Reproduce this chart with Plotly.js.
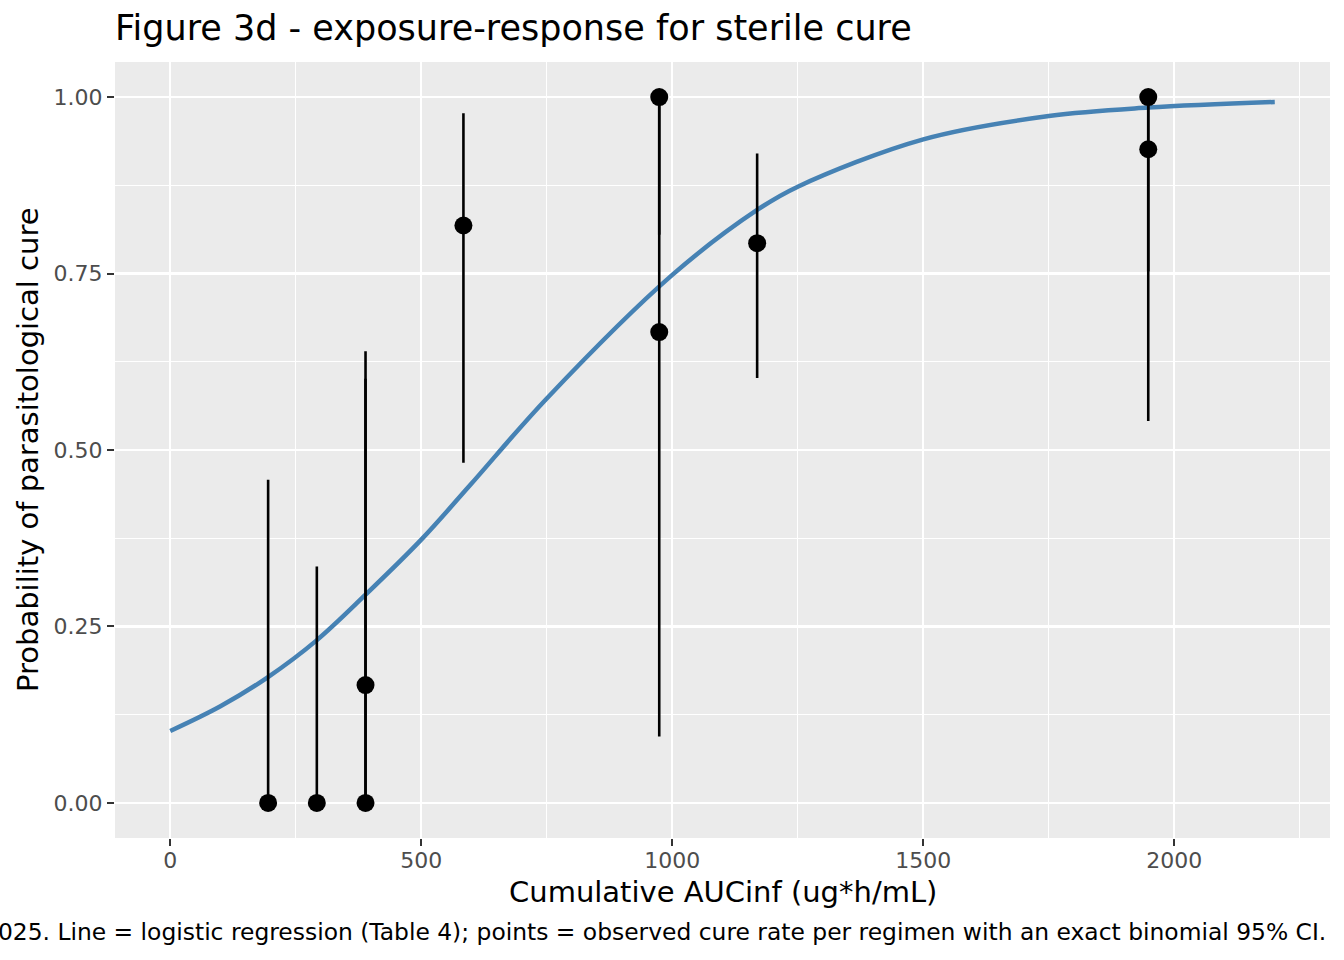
<!DOCTYPE html>
<html>
<head>
<meta charset="utf-8">
<script src="https://cdn.plot.ly/plotly-3.0.1.min.js"></script>
<style>
  body { margin: 0; background: #ffffff; }
  #chart { width: 1344px; height: 960px; }
</style>
</head>
<body>
<div id="chart"></div>
<script>
// observed cure rate per regimen, exact binomial 95% CI
var auc   = [195, 292, 389, 389, 584, 974, 974, 1169, 1948, 1948];
var cure  = [0, 0, 0, 0.167, 0.818, 1.0, 0.667, 0.793, 1.0, 0.926];
var lower = [0, 0, 0, 0.004, 0.482, 0.805, 0.094, 0.602, 0.753, 0.541];
var upper = [0.458, 0.335, 0.601, 0.640, 0.977, 1.0, 0.992, 0.920, 1.0, 0.998];

// logistic regression line
var curveX = [0, 100, 194, 291, 389, 500, 597, 750, 1000, 1169, 1250, 1500, 1750, 1948, 2200];
var curveY = [0.102, 0.137, 0.178, 0.230, 0.295, 0.373, 0.450, 0.573, 0.748, 0.840, 0.873, 0.940, 0.973, 0.985, 0.993];

var xTicks = [0, 500, 1000, 1500, 2000];
var yTicks = [0, 0.25, 0.5, 0.75, 1.0];

var font = 'DejaVu Sans, sans-serif';

var errPlus = auc.map(function(d, i) { return upper[i] - cure[i]; });
var errMinus = auc.map(function(d, i) { return cure[i] - lower[i]; });

var data = [{
    type: 'scatter',
    mode: 'lines',
    x: curveX,
    y: curveY,
    line: {color: '#4682B4', width: 4.5, shape: 'spline', smoothing: 1},
    hoverinfo: 'skip',
    showlegend: false
  }, {
    type: 'scatter',
    mode: 'markers',
    x: auc,
    y: cure,
    marker: {size: 18, color: '#000000'},
    error_y: {
      type: 'data',
      symmetric: false,
      array: errPlus,
      arrayminus: errMinus,
      color: '#000000',
      thickness: 2.6,
      width: 0
    },
    showlegend: false
}];

var layout = {
  width: 1344,
  height: 960,
  paper_bgcolor: '#FFFFFF',
  plot_bgcolor: '#EBEBEB',
  margin: {l: 115, r: 14, t: 62, b: 122},
  font: {family: font, color: '#000000'},
  title: {
    text: 'Figure 3d - exposure-response for sterile cure',
    font: {family: font, size: 35, color: '#000000'},
    x: 0, xref: 'paper', xanchor: 'left',
    y: 0.971, yref: 'container', yanchor: 'middle'
  },
  xaxis: {
    range: [-110, 2310],
    tickvals: xTicks,
    ticktext: xTicks.map(String),
    showgrid: true, gridcolor: '#FFFFFF', gridwidth: 2.1,
    zeroline: false, showline: false,
    ticks: 'outside', ticklen: 7, tickwidth: 2, tickcolor: '#333333',
    ticklabelstandoff: -4,
    tickfont: {family: font, size: 22, color: '#4D4D4D'},
    minor: {tickvals: [250, 750, 1250, 1750, 2250], showgrid: true, gridcolor: '#FFFFFF', gridwidth: 1.1}
  },
  yaxis: {
    range: [-0.0496, 1.0496],
    tickvals: yTicks,
    ticktext: yTicks.map(function(v) { return v.toFixed(2); }),
    showgrid: true, gridcolor: '#FFFFFF', gridwidth: 2.1,
    zeroline: false, showline: false,
    ticks: 'outside', ticklen: 7, tickwidth: 2, tickcolor: '#333333',
    tickfont: {family: font, size: 22, color: '#4D4D4D'},
    minor: {tickvals: [0.125, 0.375, 0.625, 0.875], showgrid: true, gridcolor: '#FFFFFF', gridwidth: 1.1}
  },
  annotations: [{
    text: 'Cumulative AUCinf (ug*h/mL)',
    xref: 'paper', yref: 'paper', x: 0.5, y: 0,
    xanchor: 'center', yanchor: 'middle', yshift: -54,
    showarrow: false,
    font: {family: font, size: 29, color: '#000000'}
  }, {
    text: 'Probability of parasitological cure',
    xref: 'paper', yref: 'paper', x: -0.0716, y: 0.5,
    xanchor: 'center', yanchor: 'middle', textangle: -90,
    showarrow: false,
    font: {family: font, size: 29, color: '#000000'}
  }, {
    text: '2025. Line = logistic regression (Table 4); points = observed cure rate per regimen with an exact binomial 95% CI.',
    xref: 'paper', yref: 'paper', x: 0.9984, y: 0,
    xanchor: 'right', yanchor: 'middle', yshift: -94,
    showarrow: false,
    font: {family: font, size: 23.4, color: '#000000'}
  }]
};

Plotly.newPlot('chart', data, layout, {displayModeBar: false, staticPlot: true});
</script>
</body>
</html>
